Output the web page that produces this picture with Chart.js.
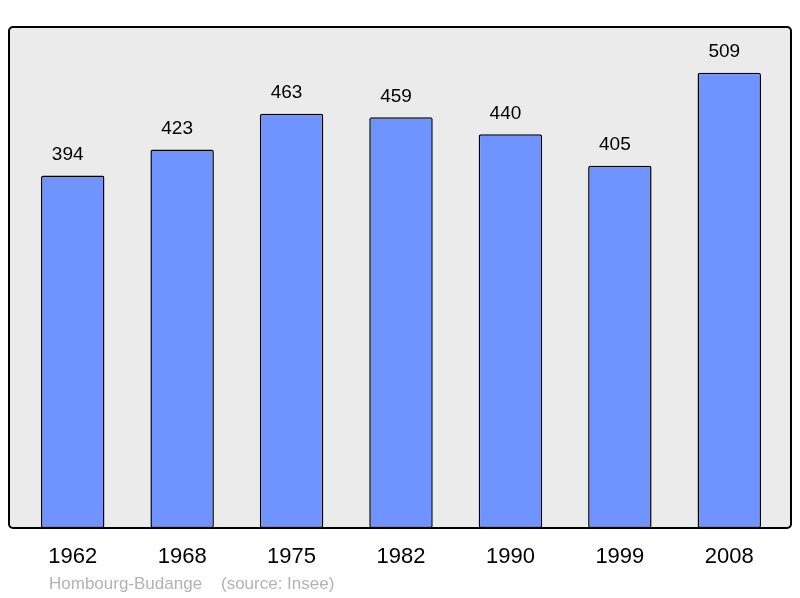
<!DOCTYPE html>
<html>
<head>
<meta charset="utf-8">
<script src="https://cdn.jsdelivr.net/npm/chart.js@4/dist/chart.umd.min.js"></script>
<style>
  html, body { margin: 0; padding: 0; background: #ffffff; }
  #wrap { width: 800px; height: 598px; }
</style>
</head>
<body>
<div id="wrap"><canvas id="c" width="800" height="598"></canvas></div>
<script>
const years = ["1962", "1968", "1975", "1982", "1990", "1999", "2008"];
const population = [394, 423, 463, 459, 440, 405, 509];
const caption = "Hombourg-Budange    (source: Insee)";

const FONT = "'Liberation Sans', Arial, sans-serif";

const boxPlugin = {
  id: 'box',
  beforeDatasetsDraw(chart) {
    const ctx = chart.ctx;
    const a = chart.chartArea;
    const x0 = a.left - 9, x1 = a.right + 7, y0 = a.top, y1 = a.bottom;
    ctx.save();
    ctx.beginPath();
    ctx.roundRect(x0, y0, x1 - x0, y1 - y0, 4);
    ctx.fillStyle = '#ebebeb';
    ctx.fill();
    ctx.restore();
  },
  afterDatasetsDraw(chart) {
    const ctx = chart.ctx;
    const a = chart.chartArea;
    const x0 = a.left - 9, x1 = a.right + 7, y0 = a.top, y1 = a.bottom;
    ctx.save();
    ctx.beginPath();
    ctx.roundRect(x0, y0, x1 - x0, y1 - y0, 4);
    ctx.lineWidth = 2;
    ctx.strokeStyle = '#000000';
    ctx.stroke();
    // value labels
    const meta = chart.getDatasetMeta(0);
    ctx.fillStyle = '#000000';
    ctx.font = '19px ' + FONT;
    ctx.textAlign = 'center';
    ctx.textBaseline = 'middle';
    meta.data.forEach((bar, i) => {
      ctx.fillText(String(chart.data.datasets[0].data[i]), bar.x - 5, bar.y - 21);
    });
    // caption
    ctx.fillStyle = '#b3b3b3';
    ctx.font = '17px ' + FONT;
    ctx.textAlign = 'left';
    ctx.fillText(caption, 49, 584);
    ctx.restore();
  }
};

new Chart(document.getElementById('c'), {
  type: 'bar',
  data: {
    labels: years,
    datasets: [{
      data: population,
      backgroundColor: '#7094ff',
      borderColor: '#000000',
      borderWidth: 1.5,
      borderRadius: 2,
      borderSkipped: false,
      categoryPercentage: 1,
      barPercentage: 0.58
    }]
  },
  options: {
    responsive: false,
    animation: false,
    devicePixelRatio: 1,
    layout: { padding: { left: 18, right: 16, top: 27, bottom: 0 } },
    plugins: { legend: { display: false }, tooltip: { enabled: false }, title: { display: false } },
    scales: {
      x: {
        grid: { display: false, drawTicks: false },
        border: { display: false },
        ticks: { color: '#000000', font: { family: FONT, size: 22 }, padding: 16, maxRotation: 0 },
        afterFit(scale) { scale.height = 70; }
      },
      y: {
        display: false,
        min: 0,
        max: 560
      }
    }
  },
  plugins: [boxPlugin]
});
</script>
</body>
</html>
